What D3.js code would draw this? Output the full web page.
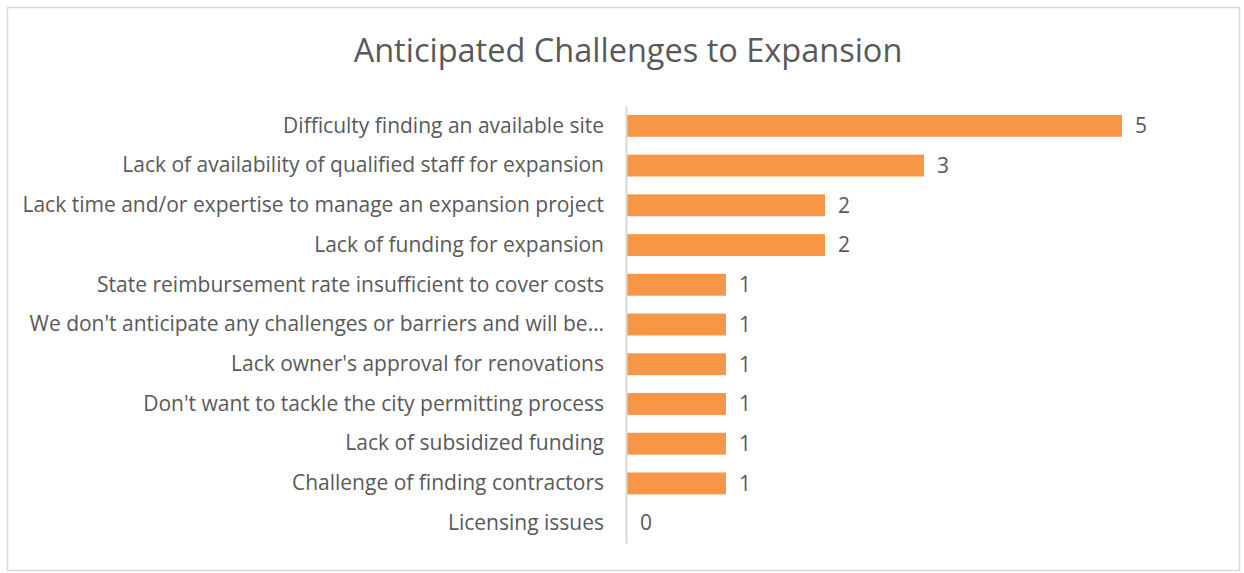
<!DOCTYPE html>
<html>
<head>
<meta charset="utf-8">
<script src="https://cdnjs.cloudflare.com/ajax/libs/d3/7.8.5/d3.min.js"></script>
<style>
  body { margin: 0; background: #fff; }
  svg text { font-family: "Open Sans", "Noto Sans", sans-serif; fill: #595959; }
</style>
</head>
<body>
<div id="chart"></div>
<script>
var categories = [
    "Difficulty finding an available site",
    "Lack of availability of qualified staff for expansion",
    "Lack time and/or expertise to manage an expansion project",
    "Lack of funding for expansion",
    "State reimbursement rate insufficient to cover costs",
    "We don't anticipate any challenges or barriers and will be\u2026",
    "Lack owner's approval for renovations",
    "Don't want to tackle the city permitting process",
    "Lack of subsidized funding",
    "Challenge of finding contractors",
    "Licensing issues"
];
var counts = [5, 3, 2, 2, 1, 1, 1, 1, 1, 1, 0];
var chartTitle = "Anticipated Challenges to Expansion";

var W = 1244, H = 573;
var margin = { top: 106, right: 123, bottom: 30, left: 626 },
    width = W - margin.left - margin.right,
    height = 543 - margin.top;

var svg = d3.select("#chart")
    .append("svg")
    .attr("width", W)
    .attr("height", H);

// outer border
svg.append("rect")
    .attr("x", 7.5)
    .attr("y", 7.5)
    .attr("width", W - 12)
    .attr("height", H - 10)
    .attr("fill", "#fff")
    .attr("stroke", "#d9d9d9")
    .attr("stroke-width", 1.5);

svg.append("text")
    .attr("x", 628)
    .attr("y", 62)
    .attr("text-anchor", "middle")
    .style("font-size", "32.5px")
    .text(chartTitle);

var g = svg.append("g")
    .attr("transform", "translate(" + margin.left + "," + margin.top + ")");

var x = d3.scaleLinear()
    .domain([0, 5])
    .range([0, 495]);

var y = d3.scaleBand()
    .domain(categories)
    .range([0, height])
    .paddingInner(0.45)
    .paddingOuter(0.225);

g.selectAll("rect.bar")
    .data(counts)
    .enter()
    .append("rect")
    .attr("class", "bar")
    .attr("x", 1)
    .attr("y", function (d, i) { return y(categories[i]); })
    .attr("width", function (d) { return x(d); })
    .attr("height", y.bandwidth())
    .style("fill", "#f79646");

// category axis
var yAxis = g.append("g")
    .call(d3.axisLeft(y).tickSize(0).tickPadding(22));
yAxis.select(".domain").attr("stroke", "#d9d9d9").attr("stroke-width", 2);
yAxis.selectAll("text")
    .style("font-size", "21px")
    .attr("fill", "#595959");

// value labels
g.selectAll("text.val")
    .data(counts)
    .enter()
    .append("text")
    .attr("class", "val")
    .attr("x", function (d) { return x(d) + 14; })
    .attr("y", function (d, i) { return y(categories[i]) + y.bandwidth() / 2; })
    .attr("dy", "0.35em")
    .style("font-size", "21px")
    .text(function (d) { return d; });
</script>
</body>
</html>
